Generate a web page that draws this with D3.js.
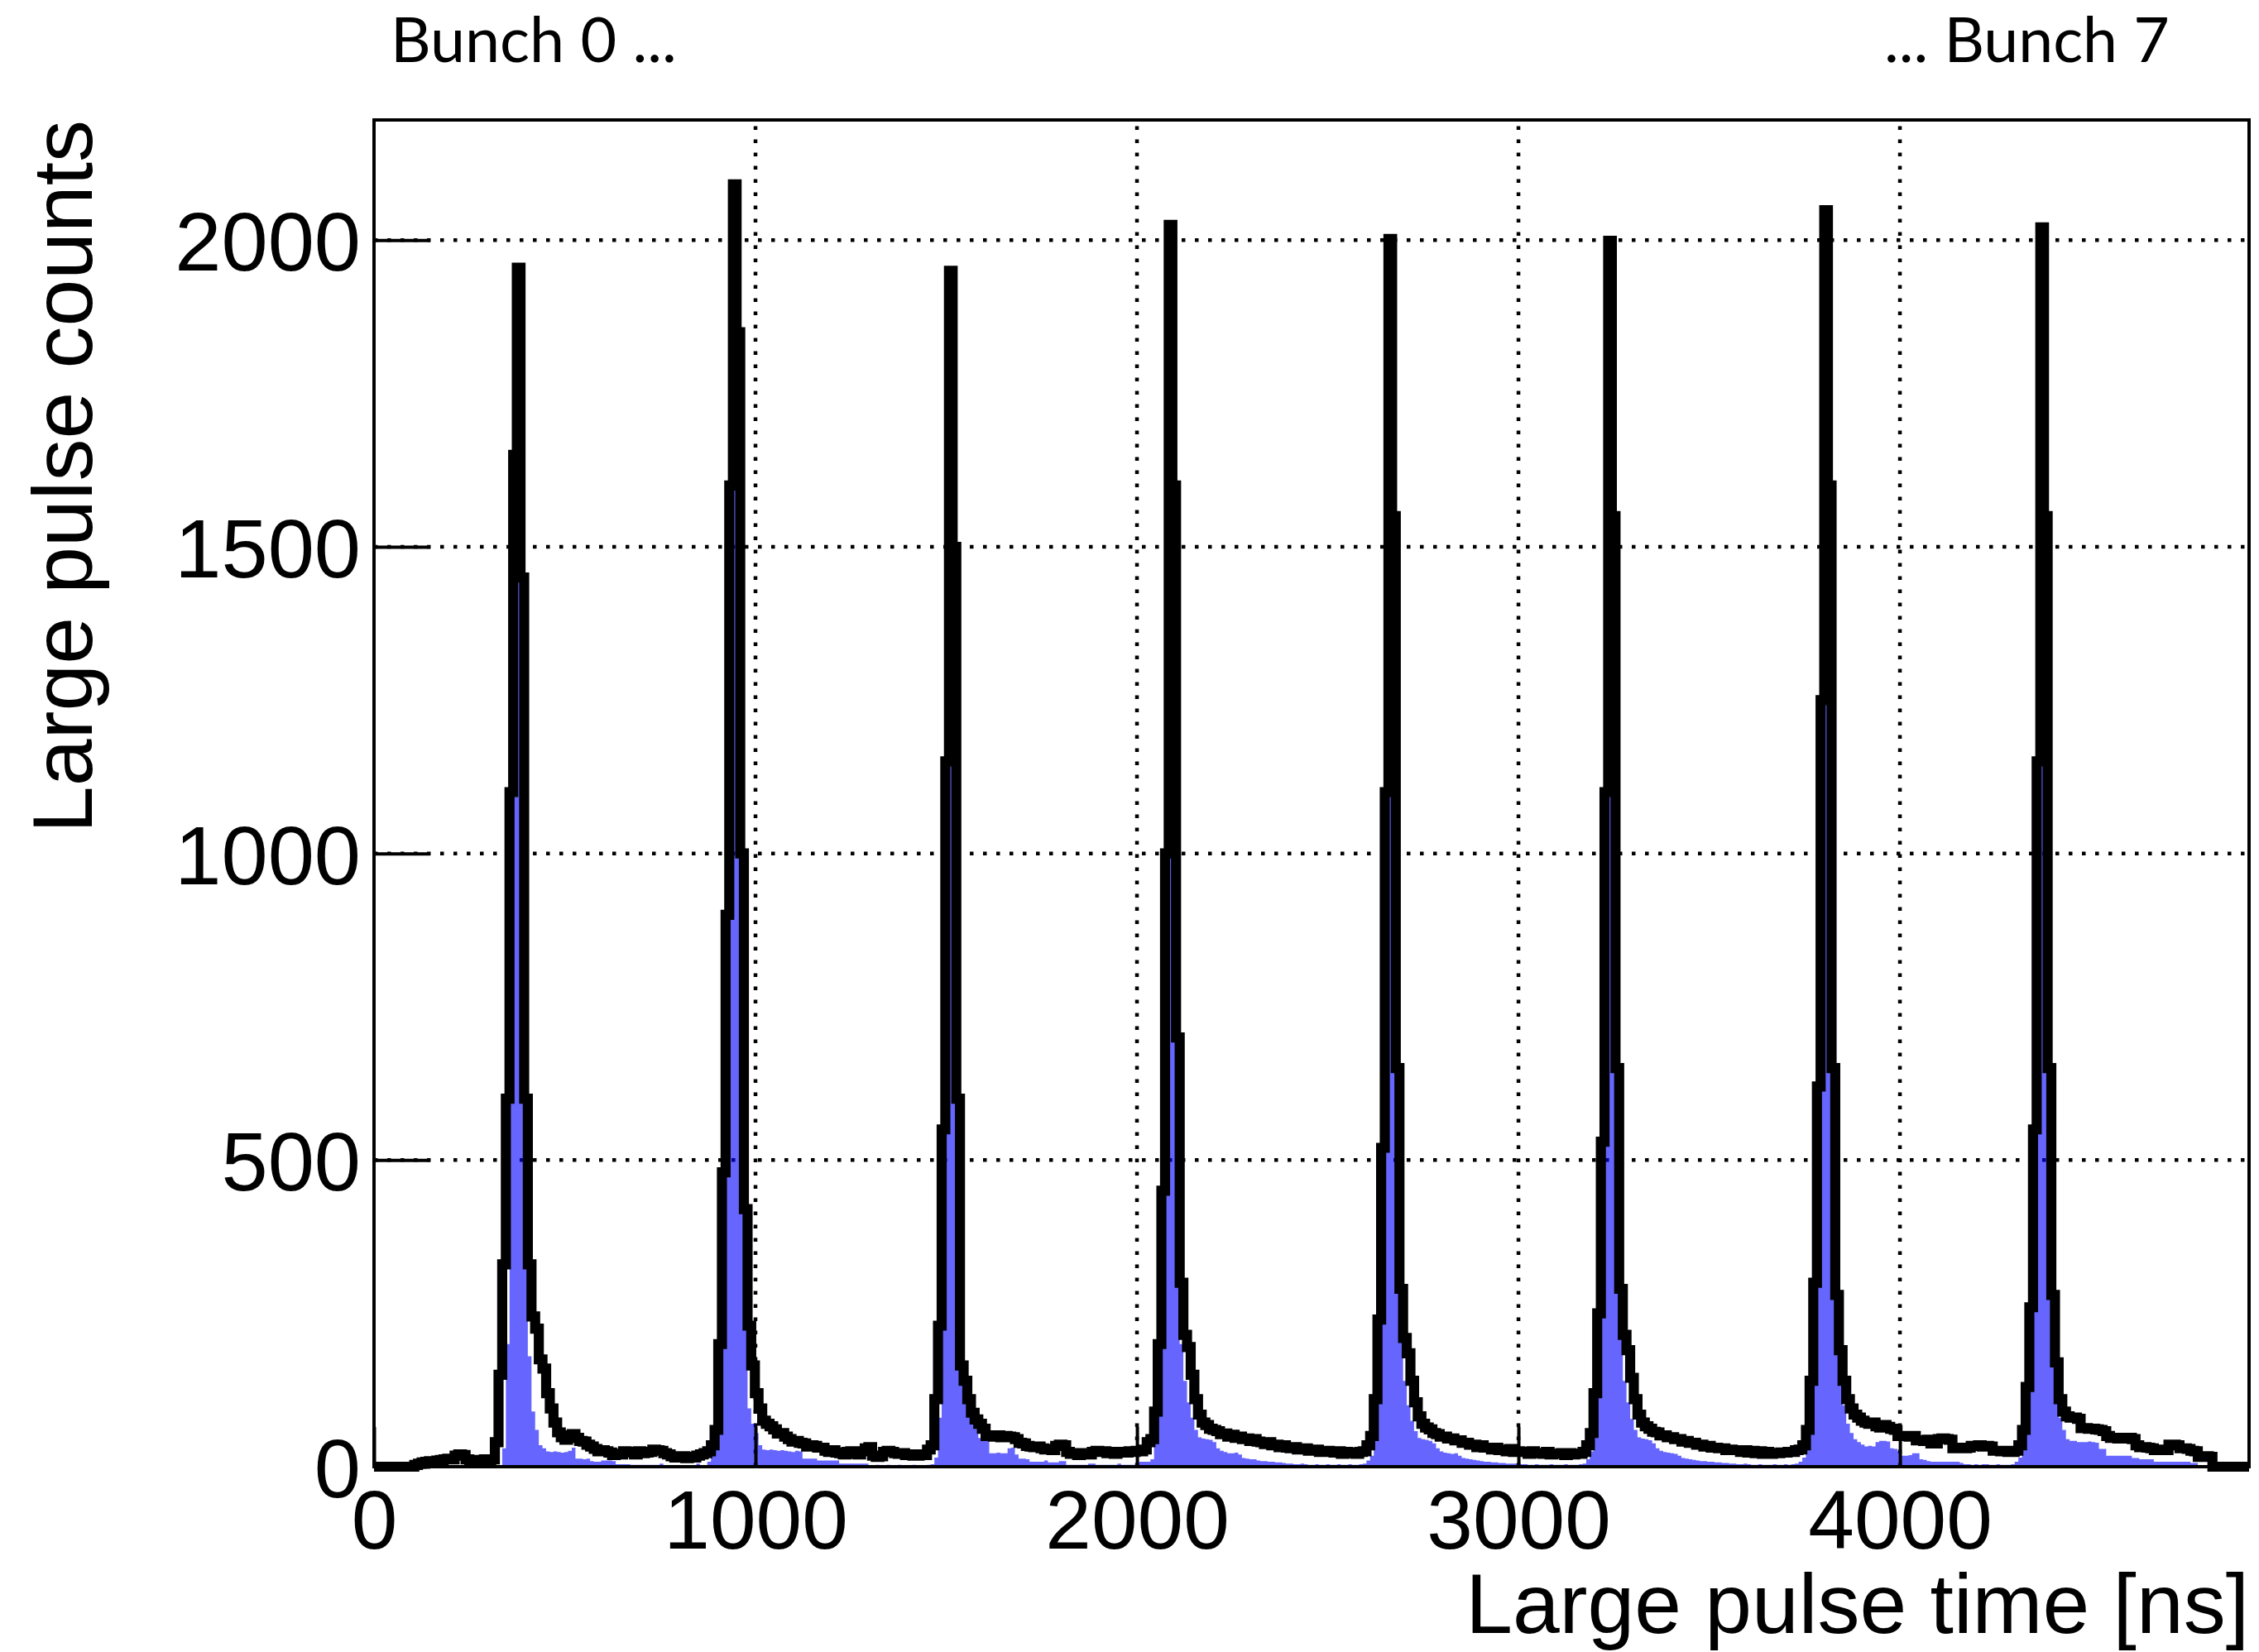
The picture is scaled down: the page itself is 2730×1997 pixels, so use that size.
<!DOCTYPE html>
<html>
<head>
<meta charset="utf-8">
<script src="https://cdn.jsdelivr.net/npm/d3@7"></script>
<style>
  html, body { margin: 0; padding: 0; background: #ffffff; }
  svg { display: block; }
</style>
</head>
<body>
<svg id="chart" width="2730" height="1997"></svg>
<script>
// ---------------- DATA ----------------
// Histogram: 512 bins of 9.6 ns over 0 .. 4915.2 ns
const binWidth = 9.6;
const xMaxNs = 4915.2;
const yMaxCounts = 2196;
const xTickValues = [0, 1000, 2000, 3000, 4000];
const yTickValues = [0, 500, 1000, 1500, 2000];
const xTitle = "Large pulse time [ns]";
const yTitle = "Large pulse counts";
const bunchLabels = ["Bunch 0 ...", "... Bunch 7"];

// Black outline histogram (all large pulses), one segment per bunch region
const blackBunch0 = [ // bins 0-88
  0,0,0,0,0,0,0,0,0,0,0,
  3,5,7,8,9,8,10,11,12,13,12,18,20,19,12,10,11,9,10,12,11,12,
  40,150,330,600,1100,1650,1955,1450,600,330,245,225,175,160,120,95,72,56,
  48,44,51,53,47,42,41,36,33,29,25,27,25,23,19,21,20,25,24,23,
  20,25,22,23,24,28,27,26,22,20,17,15,16,17,14,16,15,18];
const blackBunch1 = [ // bins 89-151
  20,22,25,35,60,200,480,900,1600,2091,1850,1000,420,
  230,165,120,95,75,70,66,61,54,55,49,45,41,42,39,38,33,35,34,31,
  31,26,24,27,23,22,20,24,25,21,20,25,30,32,18,16,17,24,26,24,
  22,21,22,19,20,18,18,20,19,28];
const blackBunch2 = [ // bins 152-211
  35,110,230,550,1150,1950,1500,600,165,
  140,110,88,77,70,62,50,51,49,51,48,50,49,48,45,39,38,34,33,32,
  33,30,28,29,27,34,36,35,24,21,22,19,21,22,20,24,26,24,25,22,
  24,21,23,24,23,25,24,26,25,28,40];
const blackBunch3 = [ // bins 212-271
  45,90,200,450,1000,2025,1600,700,300,
  215,195,150,110,85,72,68,62,60,58,53,54,49,52,47,49,45,46,42,45,
  41,40,37,40,35,36,32,35,31,30,32,28,29,30,26,27,28,24,25,26,
  24,23,25,21,24,23,22,21,24,25,35];
const blackBunch4 = [ // bins 272-331
  50,110,240,520,1100,2002,1550,650,290,
  210,185,140,105,82,70,64,61,55,53,49,49,46,46,43,43,39,39,36,36,
  32,35,31,31,28,31,27,28,25,29,24,25,24,24,21,25,22,22,21,24,
  20,21,21,22,19,22,20,21,21,24,35];
const blackBunch5 = [ // bins 332-389
  55,120,250,530,1100,1999,1550,650,290,
  215,190,145,110,85,72,66,62,57,56,51,51,48,48,45,45,41,42,39,39,
  36,36,33,34,31,31,30,30,27,28,27,27,24,27,23,26,22,25,21,24,
  21,22,22,23,23,24,24,27,28];
const blackBunch6 = [ // bins 390-448
  35,60,140,300,620,1250,2049,1600,650,280,190,140,110,95,85,80,75,
  72,70,72,66,64,68,65,62,60,50,50,50,49,50,43,43,42,44,38,38,
  45,46,45,44,30,31,30,30,31,34,34,35,33,34,33,26,26,25,26,24,24,26];
const blackBunch7 = [ // bins 449-511
  35,60,130,260,550,1150,2021,1550,650,280,170,110,90,
  82,80,80,78,63,63,62,62,61,60,58,50,47,47,46,47,46,47,45,35,
  32,32,31,30,27,27,28,27,36,36,35,30,30,29,26,25,16,16,17,16,
  0,0,0,0,0,0,0,0,0,0];

// Blue filled histogram (selected pulses)
const blueBunch0 = [
  0,0,0,0,0,0,0,0,0,0,0,0,0,0,0,0,0,0,0,0,0,0,0,0,0,0,0,0,0,0,0,0,0,0,0,
  30,200,650,1550,1940,1400,500,180,90,60,35,30,25,24,25,24,
  23,24,26,31,13,13,12,13,9,8,8,10,10,10,9,4,4,4,4,3,
  3,3,3,3,3,3,3,5,2,2,2,2,2,2,2,2,2,5];
const blueBunch1 = [
  2,2,8,20,45,170,460,880,1580,2080,1830,950,300,
  95,70,55,35,28,27,28,27,26,27,26,25,24,26,25,13,13,13,13,10,
  10,10,10,10,10,5,5,5,5,5,5,5,5,2,2,3,2,2,3,2,
  2,3,2,2,2,3,2,2,2,3];
const blueBunch2 = [
  4,15,80,400,1130,1935,1480,500,220,
  160,120,85,65,47,47,47,22,22,23,22,22,30,31,20,13,13,12,8,8,
  8,8,10,7,7,7,9,9,3,3,3,3,3,3,5,5,3,3,3,3,
  3,3,5,3,3,3,3,7,8,8,8];
const blueBunch3 = [
  12,40,150,420,980,2010,1580,550,200,
  140,105,80,60,48,46,45,44,40,30,26,24,22,22,23,20,14,13,12,12,
  10,9,9,8,8,7,7,6,5,5,4,4,5,4,3,3,4,3,3,4,
  3,3,4,3,3,4,3,3,4,5,10];
const blueBunch4 = [
  18,60,200,490,1080,1987,1530,560,210,
  140,100,75,58,47,45,44,42,38,30,25,23,22,21,22,18,14,13,12,11,
  10,9,8,8,7,7,6,6,5,5,5,4,4,4,3,3,4,3,3,3,
  4,3,3,3,4,3,3,3,4,5,12];
const blueBunch5 = [
  25,80,210,500,1080,1984,1530,560,210,
  140,105,78,60,48,46,45,43,38,30,26,24,23,22,21,18,14,13,12,11,
  10,9,9,8,8,7,7,6,6,5,5,4,4,5,4,3,3,4,3,3,
  3,4,3,3,4,3,4,5,8];
const blueBunch6 = [
  15,40,120,280,600,1230,2034,1580,560,230,150,100,70,55,45,40,36,
  33,34,33,40,42,42,41,30,29,25,18,18,19,22,22,12,11,9,8,8,
  8,8,8,8,8,8,6,4,4,3,4,3,4,4,3,3,4,3,3,3,4,8];
const blueBunch7 = [
  15,40,110,240,530,1130,2006,1530,560,200,120,80,60,
  45,42,42,40,40,40,41,40,39,29,29,18,18,18,18,18,18,18,14,14,
  12,12,12,12,8,8,8,8,8,8,8,8,8,8,6,6,0,0,0,0,
  0,0,0,0,0,0,0,0,0,0];

const blackCounts = [].concat(blackBunch0, blackBunch1, blackBunch2, blackBunch3,
                              blackBunch4, blackBunch5, blackBunch6, blackBunch7);
const blueCounts = [].concat(blueBunch0, blueBunch1, blueBunch2, blueBunch3,
                             blueBunch4, blueBunch5, blueBunch6, blueBunch7);

// ---------------- LAYOUT ----------------
const frame = { left: 452, right: 2718, top: 145, bottom: 1773 };
const svg = d3.select("#chart");
svg.append("rect").attr("width", 2730).attr("height", 1997).attr("fill", "#ffffff");

const x = d3.scaleLinear().domain([0, xMaxNs]).range([frame.left, frame.right]);
const y = d3.scaleLinear().domain([0, yMaxCounts]).range([frame.bottom, frame.top]);

function stepPoints(counts) {
  const pts = counts.map((v, i) => [i * binWidth, v]);
  pts.push([counts.length * binWidth, counts[counts.length - 1]]);
  return pts;
}

// grid
const grid = svg.append("g").attr("stroke", "#000").attr("stroke-width", 4.5)
  .attr("stroke-dasharray", "4.5,11.5");
grid.selectAll("line.gx").data(xTickValues.filter(v => v > 0)).join("line")
  .attr("x1", d => x(d)).attr("x2", d => x(d))
  .attr("y1", frame.bottom).attr("y2", frame.top);
grid.selectAll("line.gy").data(yTickValues.filter(v => v > 0)).join("line")
  .attr("class", "gy")
  .attr("x1", frame.left).attr("x2", frame.right)
  .attr("y1", d => y(d)).attr("y2", d => y(d));

// blue fill
const area = d3.area().x(d => x(d[0])).y0(y(0)).y1(d => y(d[1])).curve(d3.curveStepAfter);
svg.append("path").datum(stepPoints(blueCounts))
  .attr("d", area).attr("fill", "rgba(0,0,255,0.6)").attr("stroke", "none");

// black outline
const line = d3.line().x(d => x(d[0])).y(d => y(d[1])).curve(d3.curveStepAfter);
svg.append("path").datum(stepPoints(blackCounts))
  .attr("d", line).attr("fill", "none").attr("stroke", "#000")
  .attr("stroke-width", 12.2).attr("stroke-linejoin", "miter").attr("stroke-linecap", "butt");

// frame
svg.append("rect")
  .attr("x", frame.left).attr("y", frame.top)
  .attr("width", frame.right - frame.left).attr("height", frame.bottom - frame.top)
  .attr("fill", "none").attr("stroke", "#000").attr("stroke-width", 4);

const fontFamily = "'Liberation Sans', Arial, Helvetica, sans-serif";

// axes
const yAxis = d3.axisLeft(y).tickValues(yTickValues).tickSize(-68).tickPadding(16)
  .tickFormat(d3.format("d"));
const gy = svg.append("g").attr("transform", `translate(${frame.left},0)`).call(yAxis);
gy.select(".domain").remove();
gy.selectAll(".tick line").attr("stroke", "#000").attr("stroke-width", 4);
gy.selectAll(".tick text").attr("font-family", fontFamily).attr("font-size", 101)
  .attr("fill", "#000").attr("dy", "0.36em");

const xAxis = d3.axisBottom(x).tickValues(xTickValues).tickSize(-48).tickPadding(28)
  .tickFormat(d3.format("d"));
const gx = svg.append("g").attr("transform", `translate(0,${frame.bottom})`).call(xAxis);
gx.select(".domain").remove();
gx.selectAll(".tick line").attr("stroke", "#000").attr("stroke-width", 4);
gx.selectAll(".tick text").attr("font-family", fontFamily).attr("font-size", 100)
  .attr("fill", "#000");

// axis titles
svg.append("text").attr("x", frame.right).attr("y", 1974)
  .attr("text-anchor", "end").attr("font-family", fontFamily).attr("font-size", 102)
  .attr("fill", "#000").text(xTitle);
svg.append("text").attr("transform", `translate(111,${frame.top}) rotate(-90)`)
  .attr("text-anchor", "end").attr("font-family", fontFamily).attr("font-size", 102)
  .attr("fill", "#000").text(yTitle);

// bunch annotations (font size scaled so the natural width matches the reference)
const bunchFont = "Lato, 'Open Sans', sans-serif";
const bunchPlacement = [{ x: 472, w: 346 }, { x: 2277, w: 345 }];
bunchLabels.forEach((label, i) => {
  const t = svg.append("text").attr("x", bunchPlacement[i].x).attr("y", 75)
    .attr("font-family", bunchFont).attr("font-size", 80).attr("fill", "#000").text(label);
  const natural = t.node().getComputedTextLength();
  if (natural > 0) t.attr("font-size", 80 * bunchPlacement[i].w / natural);
});
</script>
</body>
</html>
